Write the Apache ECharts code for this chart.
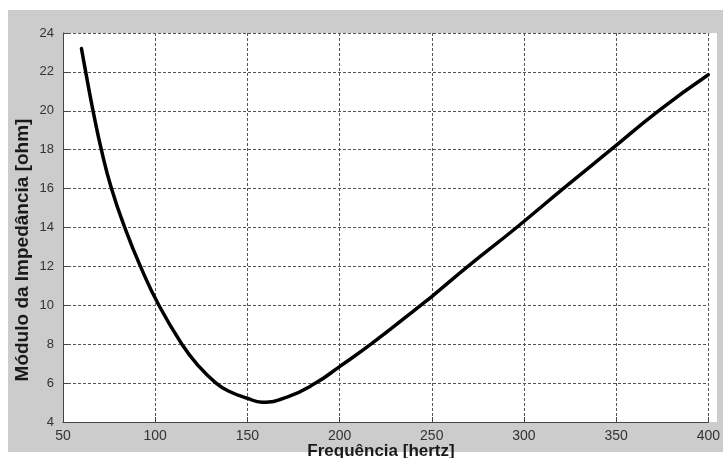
<!DOCTYPE html>
<html>
<head>
<meta charset="utf-8">
<script src="https://cdn.jsdelivr.net/npm/echarts@6/dist/echarts.min.js"></script>
<style>html,body{margin:0;padding:0;background:#fff}#c{width:723px;height:458px}</style>
</head>
<body>
<div id="c"></div>
<script>
const frequency = [60, 62.3, 66.3, 70.8, 76.3, 83.5, 92, 102, 114.5, 123.3, 133, 140, 150, 158, 171.5, 187, 200, 217, 244, 250, 269.6, 296, 321.3, 347.2, 373, 400];
const impedance = [23.2, 22, 20, 18, 16, 14, 12, 10, 8, 6.9, 6, 5.58, 5.22, 5.02, 5.28, 6, 6.85, 8, 10, 10.45, 12, 14, 16, 18, 20, 21.85];
const xTicks = [50, 100, 150, 200, 250, 300, 350, 400];
const yTicks = [4, 6, 8, 10, 12, 14, 16, 18, 20, 22, 24];
const xTitle = 'Frequência [hertz]';
const yTitle = 'Módulo da Impedância [ohm]';

const chart = echarts.init(document.getElementById('c'));
const gridLine = {show: true, lineStyle: {color: '#555', width: 1, type: [3, 2]}};
chart.setOption({
  backgroundColor: '#fff',
  animation: false,
  graphic: [
    {type: 'rect', z: -10, shape: {x: 8, y: 10, width: 715, height: 442}, style: {fill: '#cccccc'}},
    {type: 'rect', z: -9, shape: {x: 63, y: 33, width: 654, height: 389}, style: {fill: '#ffffff'}},
    {type: 'text', position: [381, 451], style: {text: xTitle, font: 'bold 17px "Liberation Sans", Arial, sans-serif', fill: '#1a1a1a', textAlign: 'center', textVerticalAlign: 'middle'}},
    {type: 'text', position: [23, 250], rotation: Math.PI / 2, style: {text: yTitle, font: 'bold 19px "Liberation Sans", Arial, sans-serif', fill: '#1a1a1a', textAlign: 'center', textVerticalAlign: 'middle'}}
  ],
  grid: {left: 63, top: 33, right: 6, bottom: 36, show: false},
  xAxis: {
    type: 'value', min: 50, max: 400, interval: 50,
    axisLine: {show: true, lineStyle: {color: '#444', width: 1}},
    axisTick: {show: true, inside: true, length: 5, lineStyle: {color: '#444'}},
    axisLabel: {color: '#333', fontSize: 14, fontFamily: '"Liberation Sans", Arial, sans-serif', margin: 7,
      formatter: v => xTicks.includes(v) ? String(v) : ''},
    splitLine: gridLine
  },
  yAxis: {
    type: 'value', min: 4, max: 24, interval: 2,
    axisLine: {show: true, lineStyle: {color: '#444', width: 1}},
    axisTick: {show: true, inside: true, length: 5, lineStyle: {color: '#444'}},
    axisLabel: {color: '#333', fontSize: 13, fontFamily: '"Liberation Sans", Arial, sans-serif', margin: 9,
      formatter: v => yTicks.includes(v) ? String(v) : ''},
    splitLine: gridLine
  },
  series: [{
    type: 'line',
    data: frequency.map((f, i) => [f, impedance[i]]),
    smooth: 0.5,
    showSymbol: false,
    lineStyle: {color: '#000', width: 3.5, join: 'round', cap: 'round'}
  }]
});
</script>
</body>
</html>
